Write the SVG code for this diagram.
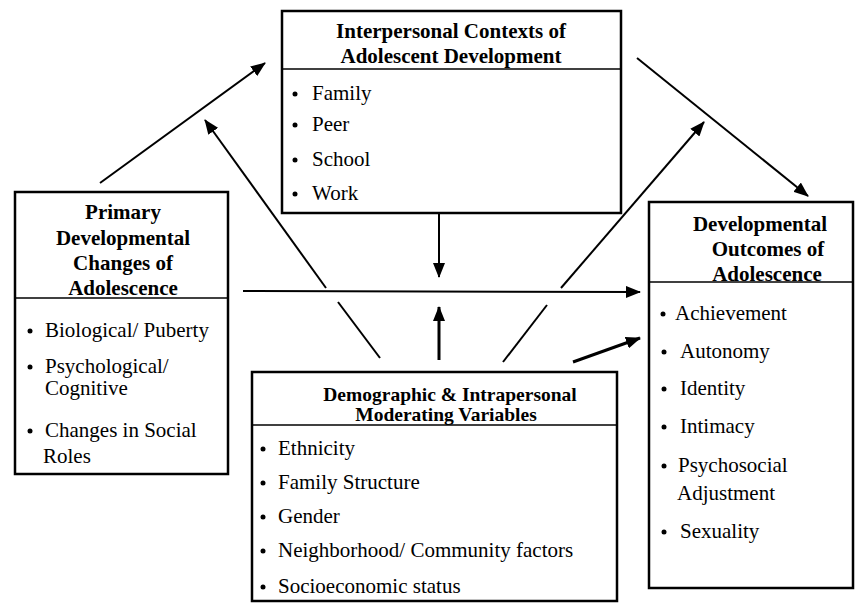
<svg xmlns="http://www.w3.org/2000/svg" width="857" height="604" viewBox="0 0 857 604">
<style>
.box{fill:#fff;stroke:#000;stroke-width:2.5}
.sep{stroke:#000;stroke-width:1.3}
.t{font-family:"Liberation Serif","Times New Roman",serif;font-size:21px;font-weight:bold;fill:#000;text-anchor:middle}
.ts{font-size:19.5px}
.i{font-family:"Liberation Serif","Times New Roman",serif;font-size:21px;fill:#000}
.b{fill:#000}
.c{stroke:#000;stroke-width:2;fill:none}
.c3{stroke:#000;stroke-width:3;fill:none}
</style>
<defs>
<marker id="ah" markerUnits="userSpaceOnUse" markerWidth="16" markerHeight="12" refX="14" refY="6" orient="auto">
<path d="M0,0 L15,6 L0,12 Z" fill="#000"/>
</marker>
</defs>
<rect width="857" height="604" fill="#fff"/>
<g id="connectors">
<line class="c" x1="100" y1="183" x2="265" y2="63" marker-end="url(#ah)"/>
<line class="c" x1="380" y1="358" x2="338" y2="302"/>
<line class="c" x1="326" y1="288" x2="205" y2="120" marker-end="url(#ah)"/>
<line class="c" x1="503" y1="362" x2="547" y2="305"/>
<line class="c" x1="561" y1="288" x2="704" y2="122" marker-end="url(#ah)"/>
<line class="c" x1="637" y1="58" x2="808" y2="196" marker-end="url(#ah)"/>
<line class="c" x1="439" y1="213" x2="439" y2="277" marker-end="url(#ah)"/>
<line class="c" x1="243" y1="291" x2="640" y2="292" marker-end="url(#ah)"/>
<line class="c3" x1="439" y1="360" x2="439" y2="307" marker-end="url(#ah)"/>
<line class="c3" x1="573" y1="362" x2="640" y2="338" marker-end="url(#ah)"/>
</g>
<g id="interpersonal">
<rect class="box" x="282" y="11" width="339" height="202"/>
<line class="sep" x1="282" y1="69" x2="621" y2="69"/>
<text class="t" x="451" y="38">Interpersonal Contexts of</text>
<text class="t" x="451" y="63">Adolescent Development</text>
<circle class="b" cx="295" cy="94" r="2.5"/><text class="i" x="312" y="100">Family</text>
<circle class="b" cx="295" cy="125" r="2.5"/><text class="i" x="312" y="131">Peer</text>
<circle class="b" cx="295" cy="160" r="2.5"/><text class="i" x="312" y="166">School</text>
<circle class="b" cx="295" cy="194" r="2.5"/><text class="i" x="312" y="200">Work</text>
</g>
<g id="primary">
<rect class="box" x="15" y="192" width="213" height="282"/>
<line class="sep" x1="15" y1="298" x2="228" y2="298"/>
<text class="t" x="123" y="219">Primary</text>
<text class="t" x="123" y="245">Developmental</text>
<text class="t" x="123" y="270">Changes of</text>
<text class="t" x="123" y="295">Adolescence</text>
<circle class="b" cx="30" cy="331" r="2.5"/><text class="i" x="45" y="337">Biological/ Puberty</text>
<circle class="b" cx="30" cy="367" r="2.5"/><text class="i" x="45" y="373">Psychological/</text>
<text class="i" x="45" y="395">Cognitive</text>
<circle class="b" cx="30" cy="431" r="2.5"/><text class="i" x="45" y="437">Changes in Social</text>
<text class="i" x="43" y="463">Roles</text>
</g>
<g id="outcomes">
<rect class="box" x="649" y="202" width="204" height="386"/>
<line class="sep" x1="649" y1="282" x2="853" y2="282"/>
<text class="t" x="760" y="231">Developmental</text>
<text class="t" x="768" y="256">Outcomes of</text>
<text class="t" x="767" y="281">Adolescence</text>
<circle class="b" cx="663" cy="314" r="2.5"/><text class="i" x="675" y="320">Achievement</text>
<circle class="b" cx="664" cy="352" r="2.5"/><text class="i" x="680" y="358">Autonomy</text>
<circle class="b" cx="664" cy="389" r="2.5"/><text class="i" x="680" y="395">Identity</text>
<circle class="b" cx="664" cy="427" r="2.5"/><text class="i" x="680" y="433">Intimacy</text>
<circle class="b" cx="664" cy="466" r="2.5"/><text class="i" x="678" y="472">Psychosocial</text>
<text class="i" x="677" y="500">Adjustment</text>
<circle class="b" cx="664" cy="532" r="2.5"/><text class="i" x="680" y="538">Sexuality</text>
</g>
<g id="moderating">
<rect class="box" x="252" y="372" width="365" height="229"/>
<line class="sep" x1="252" y1="425" x2="617" y2="425"/>
<text class="t ts" x="450" y="401">Demographic &amp; Intrapersonal</text>
<text class="t ts" x="446" y="421">Moderating Variables</text>
<circle class="b" cx="263" cy="449" r="2.5"/><text class="i" x="278" y="455">Ethnicity</text>
<circle class="b" cx="263" cy="483" r="2.5"/><text class="i" x="278" y="489">Family Structure</text>
<circle class="b" cx="263" cy="517" r="2.5"/><text class="i" x="278" y="523">Gender</text>
<circle class="b" cx="263" cy="551" r="2.5"/><text class="i" x="278" y="557">Neighborhood/ Community factors</text>
<circle class="b" cx="263" cy="587" r="2.5"/><text class="i" x="278" y="593">Socioeconomic status</text>
</g>
</svg>
